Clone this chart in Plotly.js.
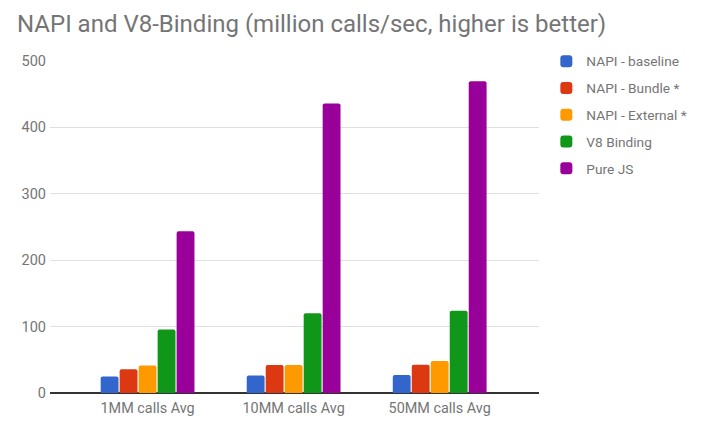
<!DOCTYPE html>
<html>
<head>
<meta charset="utf-8">
<script src="https://cdn.plot.ly/plotly-3.0.1.min.js"></script>
<style>html,body{margin:0;padding:0;background:#fff;}#chart{width:710px;height:426px;}</style>
</head>
<body>
<div id="chart"></div>
<script>
const categories = ["1MM calls Avg", "10MM calls Avg", "50MM calls Avg"];
const seriesNames = ["NAPI - baseline", "NAPI - Bundle *", "NAPI - External *", "V8 Binding", "Pure JS"];
const napiBaseline = [25, 26.5, 27];
const napiBundle = [35.6, 42.2, 42.7];
const napiExternal = [41.6, 42.2, 48.3];
const v8Binding = [95.5, 120, 124];
const pureJS = [243.7, 436, 469.5];
const yTicks = [0, 100, 200, 300, 400, 500];
const colors = ["#3366cc", "#dc3912", "#ff9900", "#109618", "#990099"];

const seriesValues = [napiBaseline, napiBundle, napiExternal, v8Binding, pureJS];
const traces = seriesValues.map((vals, i) => ({
  type: "bar",
  name: seriesNames[i],
  x: [0, 1, 2],
  y: vals,
  legendgroup: "g" + i,
  marker: {color: colors[i], cornerradius: 2, line: {width: 0}},
  hoverinfo: "name+y"
}));

const layout = {
  width: 710, height: 426,
  margin: {l: 50, r: 171, t: 61, b: 33, pad: 0},
  paper_bgcolor: "#fff", plot_bgcolor: "#fff",
  font: {family: "Roboto, Arial, sans-serif", size: 13, color: "#444"},
  title: {text: "NAPI and V8-Binding (million calls/sec, higher is better)", x: 17/710, xanchor: "left", y: 1 - 24/426, yanchor: "middle", font: {size: 24, color: "#757575", family: "Roboto, Arial, sans-serif"}},
  barmode: "group", bargap: 0.35, bargroupgap: 0.06,
  showlegend: true,
  legend: {x: 1.015, xanchor: "left", y: 1.046, yanchor: "top", traceorder: "grouped", tracegroupgap: 6, font: {size: 13.7, color: "#757575"}, itemwidth: 30},
  xaxis: {
    range: [-0.668, 2.68], tickmode: "array", tickvals: [0, 1, 2], ticktext: categories,
    showgrid: false, zeroline: false, showline: false, ticks: "", ticklabelstandoff: 5, tickfont: {size: 14.4, color: "#757575"}, fixedrange: true
  },
  yaxis: {
    range: [0, 500], tickmode: "array", tickvals: yTicks, ticktext: yTicks.map(String),
    showgrid: true, gridcolor: "#e0e0e0", gridwidth: 1, zeroline: true, zerolinecolor: "#333", zerolinewidth: 1.5,
    showline: false, ticks: "", ticklen: 0, ticklabelstandoff: 3, tickfont: {size: 14.5, color: "#757575"}, fixedrange: true
  }
};

Plotly.newPlot("chart", traces, layout, {displayModeBar: false, staticPlot: true});
</script>
</body>
</html>
